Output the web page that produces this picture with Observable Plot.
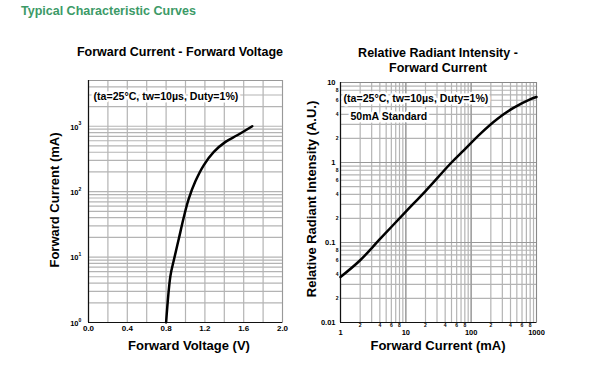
<!DOCTYPE html>
<html><head><meta charset="utf-8">
<script src="https://cdn.jsdelivr.net/npm/d3@7"></script>
<script src="https://cdn.jsdelivr.net/npm/@observablehq/plot@0.6"></script>
<style>
body{margin:0;background:#fff;font-family:"Liberation Sans",Arial,sans-serif;}
#wrap{position:relative;width:616px;height:374px;overflow:hidden;background:#fff}
.abs{position:absolute;white-space:nowrap;line-height:1}
.c{text-align:center}
.rot{transform:translate(-50%,-50%) rotate(-90deg)}
</style></head><body>
<div id="wrap">
<div class="abs" style="left:21px;top:5px;color:#3c9a67;font-weight:bold;font-size:12.5px">Typical Characteristic Curves</div>
<div class="abs c" style="left:60px;width:240px;top:46px;font-weight:bold;font-size:12.5px">Forward Current - Forward Voltage</div>
<div class="abs c" style="left:318px;width:240px;top:46px;font-weight:bold;font-size:12.5px;line-height:15px">Relative Radiant Intensity -<br>Forward Current</div>
<div id="c1" class="abs" style="left:0;top:60px"></div>
<div id="c2" class="abs" style="left:300px;top:60px"></div>
<div class="abs c" style="left:89px;width:200px;top:339px;font-weight:bold;font-size:13px">Forward Voltage (V)</div>
<div class="abs c" style="left:338px;width:200px;top:339px;font-weight:bold;font-size:13px">Forward Current (mA)</div>
<div class="abs rot" style="left:54px;top:200px;font-weight:bold;font-size:13px">Forward Current (mA)</div>
<div class="abs rot" style="left:311px;top:199px;font-weight:bold;font-size:13px">Relative Radiant Intensity (A.U.)</div>
</div>
<script>
// Left chart: Forward Current vs Forward Voltage
const vfVoltage = [0.80, 0.845, 0.88, 0.931, 0.983, 1.034, 1.103, 1.189, 1.292, 1.412, 1.533, 1.688];
const vfCurrent = [1, 5.2, 9, 19, 41, 78, 145, 255, 405, 577, 727, 1000];
const vTicks = [0, 0.4, 0.8, 1.2, 1.6, 2.0];
const iDecades = [1, 10, 100, 1000];
const iExponents = ["0", "1", "2", "3"];
const annotation = "(ta=25°C, tw=10µs, Duty=1%)";

// Right chart: Relative Radiant Intensity vs Forward Current
const ifCurrent = [1, 2, 4, 10, 20, 50, 77, 139, 251, 451, 813, 1000];
const relIntensity = [0.037, 0.06, 0.11, 0.243, 0.44, 1.0, 1.42, 2.3, 3.5, 4.85, 6.2, 6.6];
const xMajor = [1, 10, 100, 1000];
const xMajorLabels = ["1", "10", "100", "1000"];
const yMajor = [0.01, 0.1, 1, 10];
const yMajorLabels = ["0.01", "0.1", "1", "10"];
const minorDigits = [2, 4, 6, 8];
const standardNote = "50mA Standard";

const font = "Liberation Sans, Arial, sans-serif";
const gridColor = "#b4b4b4";

function logGrid(lo, hi) {
  const out = [];
  for (let d = lo; d < hi * 1.0001; d *= 10)
    for (let m = 1; m <= 9; m++) if (d * m <= hi * 1.0001) out.push(d * m);
  return out;
}

const leftData = vfVoltage.map((v, i) => ({v, i: vfCurrent[i]}));
const gridVx = d3.range(0, 11).map(k => k * 0.2);
const gridIy = logGrid(1, 5000);

const p1 = Plot.plot({
  width: 300, height: 300,
  marginLeft: 88, marginRight: 18, marginTop: 20, marginBottom: 38,
  style: {fontFamily: font, background: "transparent", overflow: "visible"},
  x: {domain: [0, 2], axis: null},
  y: {type: "log", domain: [1, 5000], axis: null},
  marks: [
    Plot.ruleX(gridVx, {stroke: gridColor, strokeWidth: 1.2}),
    Plot.ruleY(gridIy, {stroke: gridColor, strokeWidth: 1.2}),
    Plot.frame({stroke: "#999"}),
    Plot.ruleX([0], {stroke: "#111", strokeWidth: 1.2}),
    Plot.ruleY([1], {stroke: "#111", strokeWidth: 1.2}),
    Plot.line(leftData, {x: "v", y: "i", stroke: "#000", strokeWidth: 2.5, curve: "catmull-rom"}),
    Plot.text([annotation], {frameAnchor: "top-left", dx: 5, dy: 12, textAnchor: "start", fontSize: 10.6, fontWeight: "bold", fill: "#000", stroke: "white", strokeWidth: 5}),
    Plot.text(vTicks, {x: d => d, frameAnchor: "bottom", dy: 8, text: d => d.toFixed(1), fontSize: 8, fontWeight: "bold", fill: "#000"}),
    Plot.text(iDecades, {y: d => d, frameAnchor: "left", dx: -10, dy: 1, textAnchor: "end", text: () => "10", fontSize: 7.5, fontWeight: "bold", fill: "#000"}),
    Plot.text(iDecades, {y: d => d, frameAnchor: "left", dx: -10, dy: -2.5, textAnchor: "start", text: (d, i) => iExponents[i], fontSize: 5, fontWeight: "bold", fill: "#000"})
  ]
});
document.getElementById("c1").appendChild(p1);

const rightData = ifCurrent.map((c, i) => ({c, r: relIntensity[i]}));
const xMinor = [1, 10, 100].flatMap(d => minorDigits.map(m => ({v: d * m, t: String(m)})));
const yMinor = [0.01, 0.1, 1].flatMap(d => minorDigits.map(m => ({v: d * m, t: String(m)})));

const p2 = Plot.plot({
  width: 316, height: 300,
  marginLeft: 40, marginRight: 80, marginTop: 22, marginBottom: 38,
  style: {fontFamily: font, background: "transparent", overflow: "visible"},
  x: {type: "log", domain: [1, 1000], axis: null},
  y: {type: "log", domain: [0.01, 10], axis: null},
  marks: [
    Plot.ruleX(logGrid(1, 1000), {stroke: gridColor, strokeWidth: 1.2}),
    Plot.ruleY(logGrid(0.01, 10), {stroke: gridColor, strokeWidth: 1.2}),
    Plot.ruleX([10, 100], {stroke: "#999", strokeWidth: 1.2}),
    Plot.ruleY([0.1, 1], {stroke: "#999", strokeWidth: 1.2}),
    Plot.frame({stroke: "#888"}),
    Plot.ruleX([1], {stroke: "#111", strokeWidth: 1.2}),
    Plot.ruleY([0.01], {stroke: "#111", strokeWidth: 1.2}),
    Plot.line(rightData, {x: "c", y: "r", stroke: "#000", strokeWidth: 2.5, curve: "catmull-rom"}),
    Plot.text([annotation], {frameAnchor: "top-left", dx: 3, dy: 12, textAnchor: "start", fontSize: 10.6, fontWeight: "bold", fill: "#000", stroke: "white", strokeWidth: 5}),
    Plot.text([standardNote], {frameAnchor: "top-left", dx: 10, dy: 30, textAnchor: "start", fontSize: 10.5, fontWeight: "bold", fill: "#000", stroke: "white", strokeWidth: 5}),
    Plot.text(xMajor, {x: d => d, frameAnchor: "bottom", dy: 12, text: (d, i) => xMajorLabels[i], fontSize: 7.5, fontWeight: "bold", fill: "#000"}),
    Plot.text(xMinor, {x: "v", frameAnchor: "bottom", dy: 4.5, text: "t", fontSize: 5, fontWeight: "bold", fill: "#000"}),
    Plot.text(yMajor, {y: d => d, frameAnchor: "left", dx: -5, textAnchor: "end", text: (d, i) => yMajorLabels[i], fontSize: 7.5, fontWeight: "bold", fill: "#000"}),
    Plot.text(yMinor, {y: "v", frameAnchor: "left", dx: -2, textAnchor: "end", text: "t", fontSize: 5, fontWeight: "bold", fill: "#000"})
  ]
});
document.getElementById("c2").appendChild(p2);
</script>
</body></html>
